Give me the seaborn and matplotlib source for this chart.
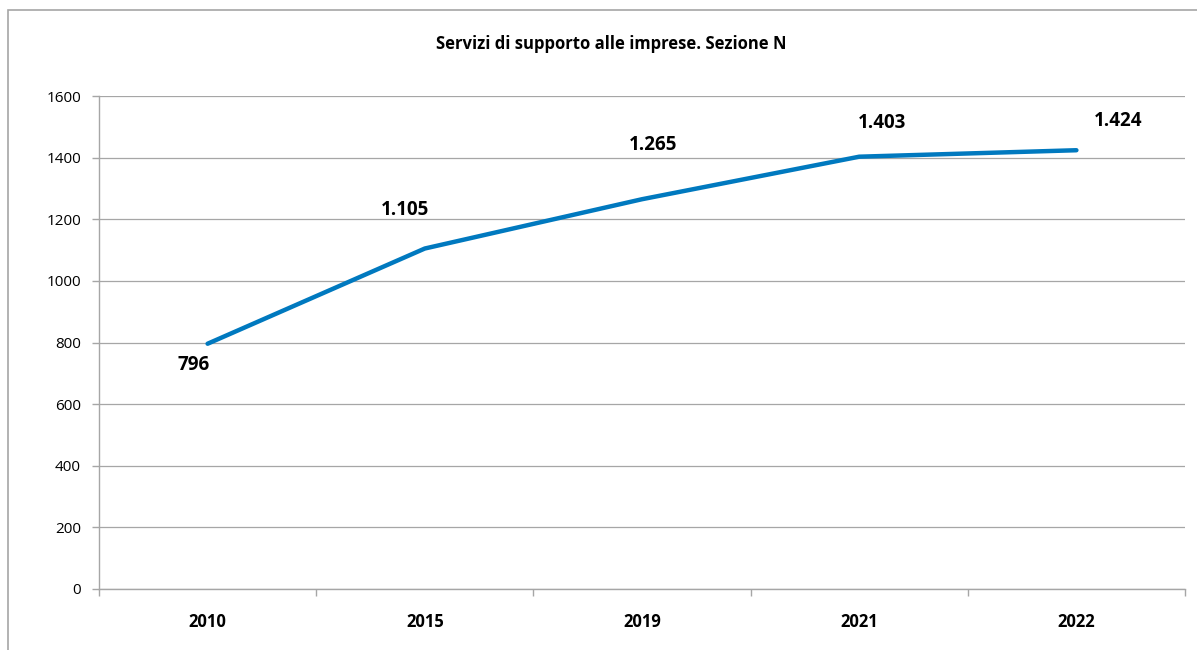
import matplotlib
matplotlib.use('Agg')
import matplotlib.pyplot as plt
import seaborn as sns
import pandas as pd
from matplotlib.patches import Rectangle

anni = ['2010', '2015', '2019', '2021', '2022']
valori = [796, 1105, 1265, 1403, 1424]
etichette = ['796', '1.105', '1.265', '1.403', '1.424']
titolo = 'Servizi di supporto alle imprese. Sezione N'

sns.set_theme(style='white')
plt.rcParams['font.family'] = ['Open Sans', 'DejaVu Sans']

df = pd.DataFrame({'anno': anni, 'valore': valori})

fig = plt.figure(figsize=(11.97, 6.5), dpi=100)
# cornice esterna del grafico
fig.patches.append(Rectangle((8 / 1197, -0.1), 1.2, 1 - 10 / 650 + 0.1,
                             transform=fig.transFigure, fill=False,
                             edgecolor='#A6A6A6', linewidth=1.2))
ax = fig.add_axes([99 / 1197, 1 - 589 / 650, (1185 - 99) / 1197, (589 - 96) / 650])

sns.lineplot(data=df, x='anno', y='valore', sort=False, ax=ax,
             color='#0079BF', linewidth=3.2, solid_capstyle='round')

ax.set_ylim(0, 1600)
ax.set_xlim(-0.5, len(anni) - 0.5)
ax.set_yticks(range(0, 1601, 200))
ax.set_yticklabels([str(v) for v in range(0, 1601, 200)], fontsize=11, color='black')
ax.yaxis.grid(True, color='#A6A6A6', linewidth=0.9)
ax.set_axisbelow(True)

# tacche tra le categorie, etichette al centro
ax.set_xticks([i - 0.5 for i in range(len(anni) + 1)])
ax.set_xticklabels([])
ax.set_xticks(range(len(anni)), minor=True)
ax.set_xticklabels(anni, minor=True, fontsize=12, fontweight='bold', color='black')
ax.tick_params(axis='x', which='minor', length=0, pad=17)
ax.tick_params(axis='x', which='major', length=5, color='#A6A6A6', width=1, direction='out')
ax.tick_params(axis='y', length=5, color='#A6A6A6', width=1, direction='out', pad=8)
ax.xaxis.set_ticks_position('bottom')
ax.yaxis.set_ticks_position('left')

for s in ['top', 'right']:
    ax.spines[s].set_visible(False)
for s in ['left', 'bottom']:
    ax.spines[s].set_color('#A6A6A6')
    ax.spines[s].set_linewidth(1)

ax.set_xlabel('')
ax.set_ylabel('')

offsets = [(-10, -15), (-14.5, 28), (8, 39), (16.5, 24.5), (30, 21)]
for i, (v, t) in enumerate(zip(valori, etichette)):
    ax.annotate(t, (i, v), textcoords='offset points', xytext=offsets[i],
                ha='center', va='center', fontsize=13.5, fontweight='bold', color='black')

fig.text(611 / 1197, 1 - 44 / 650, titolo, ha='center', va='center',
         fontsize=12, fontweight='bold', color='black')

fig.savefig('out.png', dpi=100)
